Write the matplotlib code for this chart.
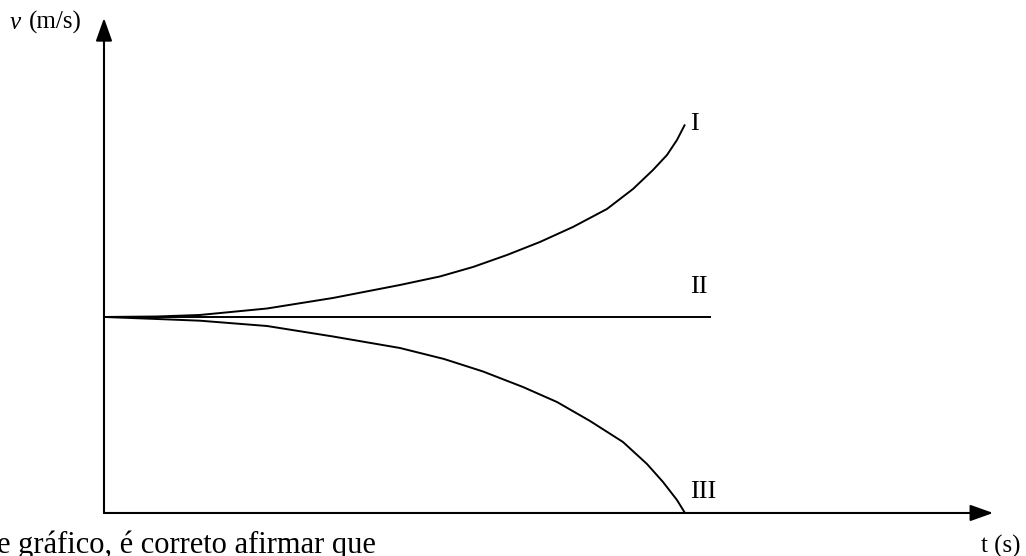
import matplotlib
matplotlib.use("Agg")
import matplotlib.pyplot as plt

plt.rcParams['font.family'] = ['Liberation Serif', 'DejaVu Serif']

# Curve data (t in arbitrary seconds, v in arbitrary m/s)
t_I = [0, 0.914, 1.655, 2.810, 3.948, 5.103, 5.793, 6.362, 6.948, 7.517,
       8.086, 8.672, 9.121, 9.466, 9.707, 9.879, 10.017]
v_I = [4.0, 4.010, 4.041, 4.173, 4.388, 4.653, 4.827, 5.020, 5.265, 5.531,
       5.837, 6.204, 6.612, 7.000, 7.306, 7.612, 7.929]

t_II = [0, 10.46]
v_II = [4.0, 4.0]

t_III = [0, 0.914, 1.655, 2.810, 3.948, 5.103, 5.862, 6.534, 7.224, 7.810,
         8.379, 8.948, 9.362, 9.638, 9.879, 10.017]
v_III = [4.0, 3.959, 3.924, 3.816, 3.602, 3.367, 3.143, 2.888, 2.571, 2.265,
         1.878, 1.449, 1.0, 0.633, 0.265, 0.0]

curve_labels = ["I", "II", "III"]

fig = plt.figure(figsize=(10.26, 5.56), dpi=100)
ax = fig.add_axes([0, 0, 1, 1])
ax.set_xlim(-1.793, 15.897)
ax.set_ylim(-0.878, 10.469)
ax.axis('off')

lw = 1.4
line_kw = dict(color='black', lw=lw, solid_capstyle='butt', solid_joinstyle='round')
ax.plot(t_I, v_I, **line_kw)
ax.plot(t_II, v_II, **line_kw)
ax.plot(t_III, v_III, **line_kw)

# Axes with arrows
arrow_kw = dict(arrowstyle='-|>,head_length=1.4,head_width=0.5', color='black',
                lw=1.5, mutation_scale=10, shrinkA=0, shrinkB=0)
ax.annotate('', xy=(15.33, 0), xytext=(0, 0), arrowprops=arrow_kw)
ax.annotate('', xy=(0, 10.10), xytext=(0, 0), arrowprops=arrow_kw)

# Curve labels
fs_lab = 19
ax.text(10.10, 7.82, curve_labels[0], fontsize=fs_lab, ha='left', va='baseline')
ax.text(10.10, 4.49, curve_labels[1], fontsize=fs_lab, ha='left', va='baseline')
ax.text(10.10, 0.306, curve_labels[2], fontsize=fs_lab, ha='left', va='baseline')

# Axis labels
ax.text(-1.62, 9.88, "v", fontsize=18, style='italic', ha='left', va='baseline')
ax.text(-1.30, 9.88, "(m/s)", fontsize=18, ha='left', va='baseline')
ax.text(15.12, -0.80, "t (s)", fontsize=18, ha='left', va='baseline')

# Cut-off question text (as in the source excerpt)
ax.text(-1.84, -0.816, "e gráfico, é correto afirmar que", fontsize=22,
        ha='left', va='baseline')

fig.savefig("out.png", dpi=100)
